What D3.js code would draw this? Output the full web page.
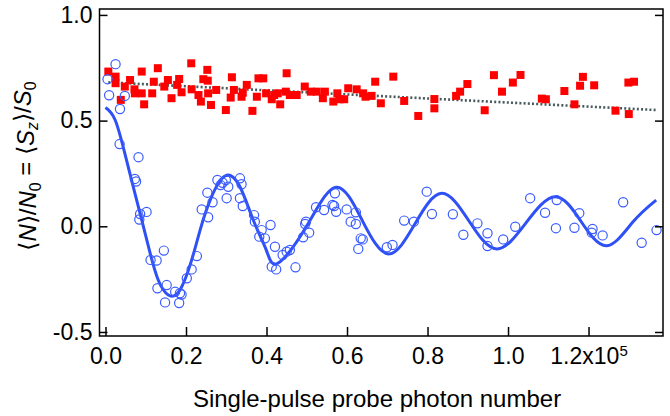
<!DOCTYPE html>
<html>
<head>
<meta charset="utf-8">
<script src="https://cdn.jsdelivr.net/npm/d3@7"></script>
<style>
  body { margin: 0; background: #fff; }
  svg { display: block; font-family: "Liberation Sans", Arial, Helvetica, sans-serif; }
</style>
</head>
<body>
<div class="chart"></div>
<script>
// x in units of 1e5 photons, y = <N>/N0
const redSquares = [
  [0.007,0.732],[0.025,0.708],[0.025,0.677],[0.038,0.598],[0.048,0.661],[0.061,0.692],
  [0.072,0.648],[0.073,0.629],[0.090,0.732],[0.090,0.629],[0.096,0.577],[0.116,0.629],
  [0.120,0.684],[0.130,0.748],[0.146,0.661],[0.155,0.692],[0.164,0.606],[0.183,0.697],
  [0.178,0.669],[0.189,0.634],[0.213,0.771],[0.214,0.648],[0.231,0.621],[0.237,0.590],
  [0.243,0.696],[0.253,0.740],[0.254,0.689],[0.255,0.629],[0.262,0.574],[0.275,0.645],
  [0.299,0.550],[0.311,0.609],[0.314,0.705],[0.319,0.645],[0.338,0.613],[0.341,0.632],
  [0.351,0.669],[0.365,0.546],[0.376,0.613],[0.380,0.700],[0.392,0.700],[0.399,0.629],
  [0.413,0.601],[0.419,0.621],[0.428,0.629],[0.434,0.577],[0.450,0.724],[0.448,0.637],
  [0.458,0.621],[0.475,0.621],[0.495,0.661],[0.510,0.637],[0.525,0.637],[0.540,0.606],
  [0.545,0.637],[0.566,0.590],[0.576,0.629],[0.581,0.601],[0.593,0.601],[0.603,0.653],
  [0.624,0.648],[0.640,0.629],[0.646,0.613],[0.661,0.617],[0.670,0.684],[0.684,0.582],
  [0.715,0.708],[0.742,0.593],[0.777,0.522],[0.817,0.602],[0.817,0.558],[0.871,0.617],
  [0.881,0.637],[0.899,0.673],[0.942,0.549],[0.965,0.715],[0.985,0.637],[1.012,0.680],
  [1.031,0.716],[1.084,0.604],[1.094,0.601],[1.140,0.640],[1.165,0.577],[1.179,0.665],
  [1.186,0.707],[1.214,0.667],[1.267,0.547],[1.299,0.680],[1.300,0.531],[1.313,0.684]
];

const blueCircles = [
  [0.025,0.767],[0.005,0.696],[0.009,0.620],[0.048,0.617],[0.036,0.555],
  [0.035,0.389],[0.082,0.327],[0.073,0.224],[0.076,0.212],
  [0.102,0.068],[0.086,0.058],[0.084,0.032],
  [0.112,-0.159],[0.127,-0.162],[0.145,-0.115],
  [0.129,-0.293],[0.152,-0.278],[0.148,-0.360],[0.173,-0.310],[0.185,-0.317],[0.189,-0.323],[0.183,-0.363],
  [0.202,-0.246],[0.214,-0.204],[0.227,-0.141],[0.239,0.080],[0.255,0.043],[0.253,0.159],
  [0.266,0.114],[0.278,0.219],[0.286,0.195],[0.291,0.206],[0.299,0.219],[0.305,0.187],
  [0.301,0.133],[0.334,0.227],[0.338,0.199],[0.334,0.133],[0.341,0.096],[0.369,0.053],
  [0.371,0.022],[0.382,-0.049],[0.388,-0.018],[0.396,-0.057],[0.410,0.006],[0.421,-0.097],
  [0.413,-0.191],[0.424,-0.204],[0.440,-0.136],[0.450,-0.120],[0.458,-0.112],[0.472,-0.194],
  [0.491,-0.052],[0.506,-0.030],[0.496,0.011],[0.498,0.022],[0.523,0.090],[0.543,0.077],
  [0.564,0.101],[0.568,0.096],[0.573,0.069],[0.570,0.156],[0.599,0.080],[0.622,0.066],
  [0.609,0.022],[0.622,0.011],[0.634,-0.057],[0.639,-0.062],[0.628,-0.107],[0.699,-0.099],
  [0.713,-0.088],[0.742,0.027],[0.766,0.022],[0.798,0.164],[0.811,0.058],[0.863,0.057],
  [0.889,-0.040],[0.924,0.014],[0.949,-0.033],[0.949,-0.093],[0.988,-0.062],[1.018,-0.002],
  [1.055,0.133],[1.092,0.064],[1.119,-0.009],[1.121,0.124],[1.165,-0.007],[1.177,0.062],
  [1.210,-0.013],[1.208,-0.030],[1.235,-0.043],[1.286,0.114],[1.332,-0.078],[1.369,-0.018]
];

// damped oscillation fit, read at extrema and crossings
const fitX = [0.000,0.024,0.048,0.069,0.090,0.111,0.131,0.156,0.185,0.214,0.235,0.260,0.297,
  0.334,0.367,0.400,0.429,0.501,0.573,0.638,0.703,0.769,0.835,0.903,0.972,1.045,1.117,1.181,
  1.245,1.310,1.368];
const fitY = [0.562,0.503,0.345,0.187,0.030,-0.128,-0.254,-0.325,-0.301,-0.160,-0.018,0.124,0.238,
  0.187,0.030,-0.115,-0.174,0.005,0.185,0.027,-0.131,0.012,0.156,0.025,-0.107,0.017,0.140,0.024,
  -0.092,0.020,0.124];

// linear fit of the reference data
const trendX = [0.007, 1.369];
const trendY = [0.681, 0.550];

const xTicks = [0, 0.2, 0.4, 0.6, 0.8, 1.0, 1.2];
const xTickLabels = ["0.0", "0.2", "0.4", "0.6", "0.8", "1.0", "1.2x10"];
const yTicks = [1.0, 0.5, 0.0, -0.5];
const yTickLabels = ["1.0", "0.5", "0.0", "-0.5"];

const W = 670, H = 416;
const plotL = 99.5, plotR = 663, plotT = 9, plotB = 336;

const svg = d3.select(".chart").append("svg")
  .attr("width", W)
  .attr("height", H);

const x = d3.scaleLinear().domain([-0.0149, 1.385]).range([plotL, plotR]);
const y = d3.scaleLinear().domain([-0.519, 1.028]).range([plotB, plotT]);

const blue = "#2f50f4";

svg.append("clipPath").attr("id", "plot")
  .append("rect")
  .attr("x", plotL).attr("y", plotT)
  .attr("width", plotR - plotL).attr("height", plotB - plotT);

const plot = svg.append("g").attr("clip-path", "url(#plot)");

// dotted trend line
plot.append("path")
  .datum(d3.zip(trendX, trendY))
  .attr("d", d3.line().x(d => x(d[0])).y(d => y(d[1])))
  .attr("fill", "none")
  .attr("stroke", "#48595b")
  .attr("stroke-width", 2.6)
  .attr("stroke-dasharray", "2,2.2");

// red squares
const s = 8;
plot.selectAll("rect.sq")
  .data(redSquares)
  .join("rect")
  .attr("class", "sq")
  .attr("x", d => x(d[0]) - s / 2)
  .attr("y", d => y(d[1]) - s / 2)
  .attr("width", s)
  .attr("height", s)
  .attr("fill", "#ff0000");

// fit curve
plot.append("path")
  .datum(d3.zip(fitX, fitY))
  .attr("d", d3.line().x(d => x(d[0])).y(d => y(d[1])).curve(d3.curveNatural))
  .attr("fill", "none")
  .attr("stroke", blue)
  .attr("stroke-width", 3);

// open circles
plot.selectAll("circle")
  .data(blueCircles)
  .join("circle")
  .attr("cx", d => x(d[0]))
  .attr("cy", d => y(d[1]))
  .attr("r", 4.6)
  .attr("fill", "none")
  .attr("stroke", "#3a5cff")
  .attr("stroke-width", 1.2);

// axes
const fontSize = "23px";

const xAxis = svg.append("g")
  .attr("transform", `translate(0,${plotB})`)
  .call(d3.axisBottom(x).tickValues(xTicks).tickSize(-9).tickPadding(12)
    .tickFormat((d, i) => xTickLabels[i]));
xAxis.select(".domain").remove();
xAxis.selectAll("text").attr("font-size", fontSize).attr("fill", "#000");
xAxis.selectAll("line").attr("stroke-width", 1.5);
xAxis.select(".tick:last-of-type text")
  .append("tspan")
  .attr("dy", "-0.55em")
  .attr("font-size", "15px")
  .text("5");

const yAxis = svg.append("g")
  .attr("transform", `translate(${plotL},0)`)
  .call(d3.axisLeft(y).tickValues(yTicks).tickSize(-8).tickPadding(7)
    .tickFormat((d, i) => yTickLabels[i]));
yAxis.select(".domain").remove();
yAxis.selectAll("text").attr("font-size", fontSize).attr("fill", "#000");
yAxis.selectAll("line").attr("stroke-width", 1.5);

const yAxisRight = svg.append("g")
  .attr("transform", `translate(${plotR},0)`)
  .call(d3.axisRight(y).tickValues(yTicks).tickSize(-8).tickFormat(""));
yAxisRight.select(".domain").remove();
yAxisRight.selectAll("line").attr("stroke-width", 1.5);

// font family set by the axis on its group; use ours instead
svg.selectAll("g").attr("font-family", null);

// frame
svg.append("rect")
  .attr("x", plotL).attr("y", plotT)
  .attr("width", plotR - plotL).attr("height", plotB - plotT)
  .attr("fill", "none")
  .attr("stroke", "#000")
  .attr("stroke-width", 1.5);

// x title
svg.append("text")
  .attr("x", 377)
  .attr("y", 407)
  .attr("text-anchor", "middle")
  .attr("font-size", "24px")
  .text("Single-pulse probe photon number");

// y title
const yTitle = svg.append("text")
  .attr("transform", "translate(36,166) rotate(-90)")
  .attr("text-anchor", "middle")
  .attr("font-size", "24px");
const parts = [
  ["\u27E8", false, false], ["N", true, false], ["\u27E9/", false, false], ["N", true, false],
  ["0", false, true], [" = \u27E8", false, false], ["S", true, false], ["z", true, true],
  ["\u27E9/", false, false], ["S", true, false], ["0", false, true]
];
let wasSub = false;
parts.forEach(([t, ital, sub]) => {
  const ts = yTitle.append("tspan").text(t);
  if (ital) ts.attr("font-style", "italic");
  if (sub && !wasSub) ts.attr("dy", "0.3em").attr("font-size", "16px");
  else if (sub) ts.attr("font-size", "16px");
  if (!sub && wasSub) ts.attr("dy", "-0.3em");
  wasSub = sub;
});
</script>
</body>
</html>
